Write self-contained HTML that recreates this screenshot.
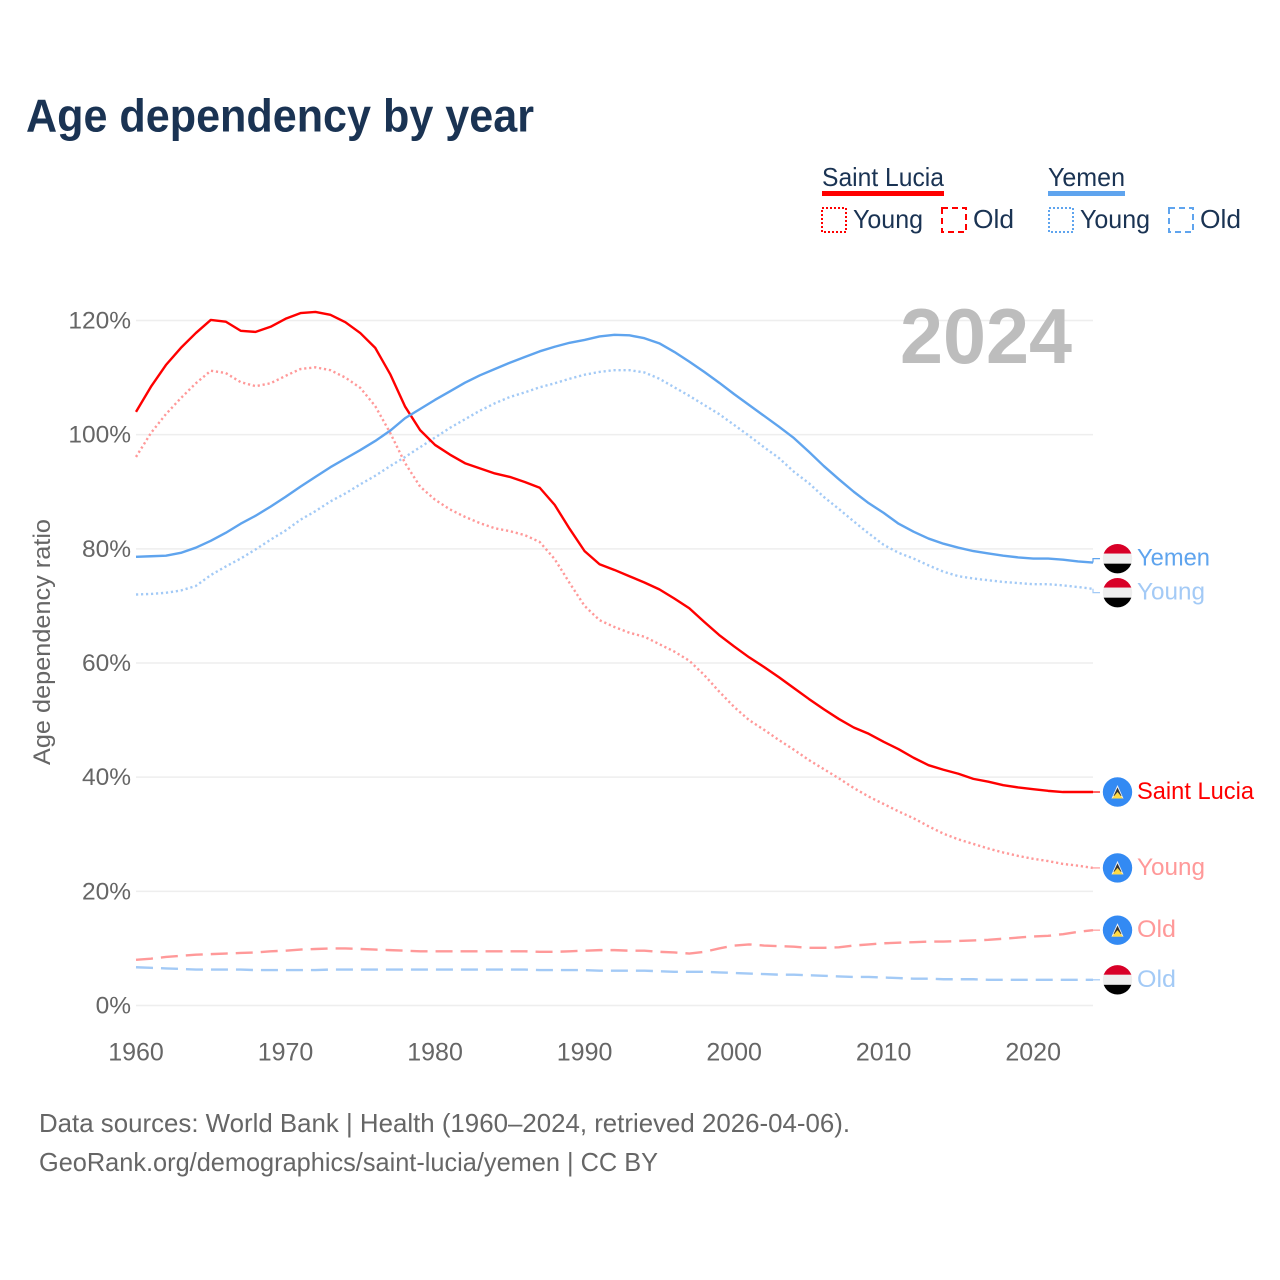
<!DOCTYPE html>
<html lang="en">
<head>
<meta charset="utf-8">
<title>Age dependency by year</title>
<style>
html,body{margin:0;padding:0;background:#fff;}
svg{display:block;font-family:"Liberation Sans",sans-serif;}
</style>
</head>
<body>
<svg id="chart" width="1280" height="1280" viewBox="0 0 1280 1280" xmlns="http://www.w3.org/2000/svg">
  <defs>
    <clipPath id="flag-clip"><circle cx="0" cy="0" r="14.7"></circle></clipPath>
  </defs>
  <rect x="0" y="0" width="1280" height="1280" fill="#ffffff"></rect>
  <text x="26" y="131.5" font-size="46" font-weight="700" fill="#1a3353" textLength="508" lengthAdjust="spacingAndGlyphs">Age dependency by year</text>

  <g>
    <g>
      <text x="822" y="186" font-size="26" fill="#1a3353" textLength="122" lengthAdjust="spacingAndGlyphs">Saint Lucia</text>
      <rect x="822" y="191" width="122" height="5" fill="#ff0000"></rect>
      <rect x="822" y="208" width="24" height="24" fill="none" stroke="#ff0000" stroke-width="2" stroke-dasharray="2 2"></rect>
      <text x="853" y="228" font-size="26" fill="#1a3353" textLength="70" lengthAdjust="spacingAndGlyphs">Young</text>
      <rect x="942" y="208" width="24" height="24" fill="none" stroke="#ff0000" stroke-width="2" stroke-dasharray="6 4"></rect>
      <text x="973" y="228" font-size="26" fill="#1a3353" textLength="41" lengthAdjust="spacingAndGlyphs">Old</text>
    </g>
    <g>
      <text x="1048" y="186" font-size="26" fill="#1a3353" textLength="77" lengthAdjust="spacingAndGlyphs">Yemen</text>
      <rect x="1048" y="191" width="77" height="5" fill="#5fa4ee"></rect>
      <rect x="1049" y="208" width="24" height="24" fill="none" stroke="#5fa4ee" stroke-width="2" stroke-dasharray="2 2"></rect>
      <text x="1080" y="228" font-size="26" fill="#1a3353" textLength="70" lengthAdjust="spacingAndGlyphs">Young</text>
      <rect x="1169" y="208" width="24" height="24" fill="none" stroke="#5fa4ee" stroke-width="2" stroke-dasharray="6 4"></rect>
      <text x="1200" y="228" font-size="26" fill="#1a3353" textLength="41" lengthAdjust="spacingAndGlyphs">Old</text>
    </g>
  </g>

  <g id="grid"></g>
  <text x="900" y="363" font-size="78" font-weight="700" fill="#bdbdbd" textLength="172" lengthAdjust="spacingAndGlyphs">2024</text>
  <g id="yticks"></g>
  <g id="xticks"></g>
  <text transform="translate(50,642) rotate(-90)" text-anchor="middle" font-size="24" fill="#666666" textLength="246" lengthAdjust="spacingAndGlyphs">Age dependency ratio</text>
  <g id="series"></g>
  <g id="ends"></g>

  <text x="39" y="1132" font-size="26" fill="#666666" textLength="811" lengthAdjust="spacingAndGlyphs">Data sources: World Bank | Health (1960–2024, retrieved 2026-04-06).</text>
  <text x="39" y="1171" font-size="26" fill="#666666" textLength="619" lengthAdjust="spacingAndGlyphs">GeoRank.org/demographics/saint-lucia/yemen | CC BY</text>
</svg>
<script>
const startYear = 1960;
const endYear = 2024;
const yTickValues = [0, 20, 40, 60, 80, 100, 120];
const xTickYears = [1960, 1970, 1980, 1990, 2000, 2010, 2020];

const saintLuciaTotal = [104.0,108.4,112.2,115.2,117.8,120.1,119.8,118.2,118.0,118.9,120.3,121.3,121.5,121.0,119.7,117.8,115.2,110.6,104.9,100.8,98.2,96.5,95.0,94.1,93.2,92.6,91.7,90.7,87.7,83.5,79.6,77.3,76.3,75.2,74.1,72.9,71.3,69.6,67.2,64.9,62.9,61.0,59.3,57.5,55.6,53.7,51.9,50.2,48.7,47.6,46.2,44.9,43.4,42.1,41.3,40.6,39.7,39.2,38.6,38.2,37.9,37.6,37.4,37.4,37.4];
const saintLuciaYoung = [96.1,100.3,103.6,106.4,109.0,111.2,110.8,109.2,108.5,109.0,110.3,111.5,111.8,111.3,110.0,108.2,105.0,100.3,95.0,90.9,88.6,86.9,85.6,84.5,83.6,83.1,82.4,81.2,78.2,74.0,70.0,67.5,66.3,65.3,64.6,63.3,62.0,60.4,57.9,55.0,52.3,50.0,48.3,46.5,44.8,43.0,41.4,39.8,38.1,36.6,35.3,34.0,32.8,31.4,30.1,29.1,28.3,27.5,26.8,26.2,25.7,25.3,24.8,24.5,24.1];
const saintLuciaOld = [8.0,8.2,8.5,8.7,8.9,9.0,9.1,9.2,9.3,9.5,9.6,9.8,9.9,10.0,10.0,9.9,9.8,9.7,9.6,9.5,9.5,9.5,9.5,9.5,9.5,9.5,9.5,9.4,9.4,9.5,9.6,9.7,9.7,9.6,9.6,9.4,9.3,9.1,9.4,10.0,10.5,10.7,10.5,10.4,10.3,10.1,10.1,10.2,10.5,10.7,10.9,11.0,11.1,11.2,11.2,11.3,11.4,11.5,11.7,11.9,12.1,12.2,12.5,12.9,13.2];
const yemenTotal = [78.6,78.7,78.8,79.3,80.2,81.4,82.8,84.4,85.8,87.4,89.1,90.9,92.6,94.3,95.8,97.3,98.9,100.7,102.9,104.5,106.1,107.6,109.1,110.4,111.5,112.6,113.6,114.6,115.4,116.1,116.6,117.2,117.5,117.4,116.9,116.0,114.5,112.8,111.0,109.1,107.1,105.2,103.3,101.4,99.4,97.0,94.5,92.2,90.0,88.0,86.3,84.4,83.0,81.8,80.9,80.2,79.6,79.2,78.8,78.5,78.3,78.3,78.1,77.8,77.6];
const yemenYoung = [72.0,72.1,72.3,72.7,73.5,75.4,76.9,78.3,79.9,81.6,83.2,85.1,86.6,88.3,89.7,91.3,92.8,94.5,96.1,97.8,99.5,101.2,102.7,104.2,105.5,106.6,107.4,108.3,109.0,109.8,110.5,111.0,111.3,111.3,110.9,109.8,108.3,106.8,105.2,103.6,101.7,99.8,97.8,95.9,93.5,91.5,89.1,87.0,84.8,82.7,80.7,79.3,78.3,77.1,76.0,75.2,74.8,74.5,74.2,74.0,73.8,73.8,73.6,73.3,73.0];
const yemenOld = [6.7,6.6,6.5,6.4,6.3,6.3,6.3,6.3,6.2,6.2,6.2,6.2,6.2,6.3,6.3,6.3,6.3,6.3,6.3,6.3,6.3,6.3,6.3,6.3,6.3,6.3,6.3,6.2,6.2,6.2,6.2,6.1,6.1,6.1,6.1,6.0,5.9,5.9,5.9,5.8,5.7,5.6,5.5,5.4,5.4,5.3,5.2,5.1,5.0,5.0,4.9,4.8,4.7,4.7,4.6,4.6,4.6,4.5,4.5,4.5,4.5,4.5,4.5,4.5,4.5];

const SVGNS = 'http://www.w3.org/2000/svg';
const plotLeft = 136, plotRight = 1093, yZero = 1005.5, yTop = 320.5;
function xScale(year){ return plotLeft + (year - startYear) * (plotRight - plotLeft) / (endYear - startYear); }
function yScale(v){ return yZero - v * (yZero - yTop) / 120; }
function make(tag, parent, attrs){
  const el = document.createElementNS(SVGNS, tag);
  for (const k in attrs) el.setAttribute(k, attrs[k]);
  parent.appendChild(el);
  return el;
}

const gridG = document.getElementById('grid');
const yG = document.getElementById('yticks');
yTickValues.forEach(function(v){
  const line = make('line', gridG, {x1: plotLeft, x2: plotRight, y1: yScale(v), y2: yScale(v), stroke: '#eeeeee', 'stroke-width': 1.5});
  
  
  const t = make('text', yG, {x: 131, y: yScale(v) + 8, 'text-anchor': 'end', 'font-size': 24.5, fill: '#666666'});
  t.textContent = v + '%';
  
  
});

const xG = document.getElementById('xticks');
xTickYears.forEach(function(year){
  const t = make('text', xG, {x: xScale(year), y: 1060.5, 'text-anchor': 'middle', 'font-size': 25, fill: '#666666'});
  t.textContent = year;
  
  
});

const RED = '#ff0000', BLUE = '#5fa4ee', LRED = '#ff9999', LBLUE = '#a3caf6';
const DOT = '2.2 2.8', DASH = '17 8';
const seriesList = [
  {key: 'yemen-old', values: yemenOld, color: LBLUE, dash: DASH, label: 'Old', flag: 'yemen'},
  {key: 'saint-lucia-old', values: saintLuciaOld, color: LRED, dash: DASH, label: 'Old', flag: 'lucia'},
  {key: 'saint-lucia-young', values: saintLuciaYoung, color: LRED, dash: DOT, label: 'Young', flag: 'lucia'},
  {key: 'yemen-young', values: yemenYoung, color: LBLUE, dash: DOT, label: 'Young', flag: 'yemen'},
  {key: 'saint-lucia-total', values: saintLuciaTotal, color: RED, dash: '', label: 'Saint Lucia', flag: 'lucia'},
  {key: 'yemen-total', values: yemenTotal, color: BLUE, dash: '', label: 'Yemen', flag: 'yemen'}
];

const seriesG = document.getElementById('series');
seriesList.forEach(function(s){
  const d = s.values.map(function(v, i){
    return (i ? 'L' : 'M') + xScale(startYear + i).toFixed(2) + ' ' + yScale(v).toFixed(2);
  }).join(' ');
  const p = make('path', seriesG, {d: d, fill: 'none', stroke: s.color, 'stroke-width': 2.4, 'stroke-linejoin': 'round'});
  if (s.dash) p.setAttribute('stroke-dasharray', s.dash);
  
  
});

/* End labels: start at each series' final value, then push overlapping ones apart. */
const minGap = 34;
const placed = seriesList.map(function(s){
  return {s: s, end: yScale(s.values[s.values.length - 1]), y: yScale(s.values[s.values.length - 1])};
}).sort(function(a, b){ return a.end - b.end; });
let clusters = placed.map(function(p){ return {items: [p], center: p.end}; });
let merged = true;
while (merged) {
  merged = false;
  for (let i = 0; i < clusters.length - 1; i++) {
    const a = clusters[i], b = clusters[i + 1];
    const aBottom = a.center + (a.items.length - 1) * minGap / 2;
    const bTop = b.center - (b.items.length - 1) * minGap / 2;
    if (bTop - aBottom < minGap) {
      const items = a.items.concat(b.items);
      const center = items.reduce(function(sum, p){ return sum + p.end; }, 0) / items.length;
      clusters.splice(i, 2, {items: items, center: center});
      merged = true;
      break;
    }
  }
}
clusters.forEach(function(c){
  c.items.forEach(function(p, i){ p.y = c.center + (i - (c.items.length - 1) / 2) * minGap; });
});

function drawFlag(parent, kind, cy){
  const g = make('g', parent, {transform: 'translate(1117.5,' + cy.toFixed(2) + ')', 'clip-path': 'url(#flag-clip)'});
  if (kind === 'yemen') {
    
    make('rect', g, {x: -15, y: -15, width: 30, height: 10, fill: '#d80027'});
    make('rect', g, {x: -15, y: -5, width: 30, height: 10, fill: '#eeeeee'});
    make('rect', g, {x: -15, y: 5, width: 30, height: 10, fill: '#000000'});
  } else {
    
    make('circle', g, {cx: 0, cy: 0, r: 15, fill: '#338af3'});
    make('polygon', g, {points: '0,-7 6,6.5 -6,6.5', fill: '#f0f0f0'});
    make('polygon', g, {points: '0,-4.5 4,4 -4,4', fill: '#333333'});
    make('polygon', g, {points: '0,0 5.5,6.5 -5.5,6.5', fill: '#ffda44'});
  }
  
}

const endLabelWidth = {'Saint Lucia': 117, 'Yemen': 73, 'Young': 68, 'Old': 39};
const endsG = document.getElementById('ends');
placed.forEach(function(p){
  const leader = make('path', endsG, {
    d: 'M' + plotRight + ' ' + p.end.toFixed(2) + ' V' + p.y.toFixed(2) + ' H1100',
    fill: 'none', stroke: p.s.color, 'stroke-width': 1.2
  });
  
  
  drawFlag(endsG, p.s.flag, p.y);
  const t = make('text', endsG, {x: 1137, y: p.y + 7, 'font-size': 24.5, fill: p.s.color, textLength: endLabelWidth[p.s.label], lengthAdjust: 'spacingAndGlyphs'});
  t.textContent = p.s.label;
  
  
});
</script>
</body>
</html>
